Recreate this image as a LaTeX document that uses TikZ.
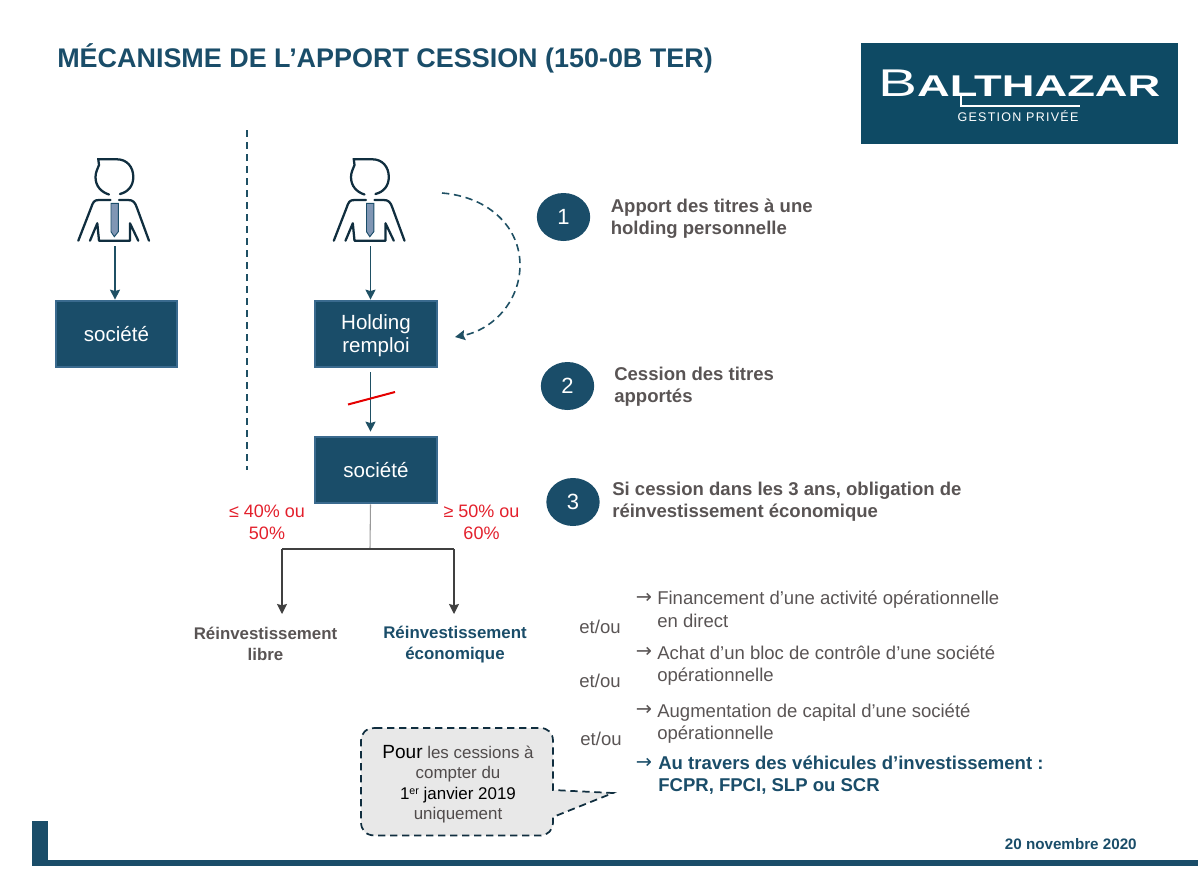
\documentclass[tikz,border=0pt]{standalone}
\usepackage{fontspec}
\setmainfont{Liberation Sans}
\newfontfamily\arrowfont{DejaVu Sans}
\usepackage{tikz}
\usetikzlibrary{arrows,arrows.meta,positioning,calc,shapes.geometric}
\definecolor{navy}{HTML}{1A4D69}
\definecolor{navyedge}{HTML}{3A6A8E}
\definecolor{logoblue}{HTML}{0E4A64}
\definecolor{teal}{HTML}{1F5064}
\definecolor{tieblue}{HTML}{8096B4}
\definecolor{textgrey}{HTML}{595454}
\definecolor{linegrey}{HTML}{404040}
\definecolor{redtxt}{HTML}{E3202C}
\tikzset{
  boxnode/.style={draw=navyedge, fill=navy, line width=1.5pt, text=white, align=center,
    inner sep=0pt, minimum width=91pt, minimum height=50pt, font=\fontsize{15.4}{17.3}\selectfont},
  numnode/.style={ellipse, fill=navy, text=white, inner sep=0pt, minimum width=40pt,
    minimum height=36pt, font=\fontsize{16.5}{18}\selectfont},
  steptxt/.style={anchor=west, align=left, inner sep=0pt, text=textgrey,
    font=\bfseries\fontsize{13.9}{16.5}\selectfont},
  listtxt/.style={anchor=west, align=left, inner sep=0pt, text=textgrey,
    font=\fontsize{13.9}{17}\selectfont},
  arrowtxt/.style={listtxt, font=\arrowfont\fontsize{14.5}{17}\selectfont},
  redtxtnode/.style={align=center, inner sep=0pt, text=redtxt, font=\fontsize{13.5}{16.5}\selectfont},
  reinvtxt/.style={align=center, inner sep=0pt, font=\bfseries\fontsize{12.65}{15.7}\selectfont},
  persnode/.style={inner sep=0pt, minimum width=54pt, minimum height=62pt},
  dashes/.style={dash pattern=on 5.5pt off 3.5pt},
  person/.pic={
    % head
    \draw[-, line width=1.7pt, color=navy!60!black, line cap=round]
      (-6,-5.5) .. controls (-14,-8) and (-19.5,-14) .. (-19.5,-23)
      .. controls (-19.5,-28) and (-17,-32) .. (-16,-35) -- (-16.7,-40.7) -- (2,-40.7)
      .. controls (12,-40.7) and (18.3,-33) .. (18.3,-23)
      .. controls (18.3,-14) and (13,-8) .. (5,-6);
    % shoulders and sleeves
    \draw[-, line width=1.7pt, color=navy!60!black, line cap=round, line join=round]
      (-36.7,40.7) -- (-24,8) .. controls (-22,2) and (-21,0) .. (-16,0) -- (-4.5,0);
    \draw[-, line width=1.7pt, color=navy!60!black, line cap=round, line join=round]
      (4,0) -- (13,0) .. controls (18,0) and (20,2) .. (22,8) -- (34,40.7);
    \draw[-, line width=1.7pt, color=navy!60!black, line cap=round, line join=round]
      (-25,40.7) -- (-17.7,23.3) -- (-16,40.7) -- (15,40.7) -- (15,23.3) -- (23.3,40.7);
    % tie
    \draw[-, line width=.7pt, draw=navy, fill=tieblue]
      (-4,3.3) -- (3.3,3.3) -- (3.3,31.7) -- (-.7,36.7) -- (-4,31.7) -- cycle;
  }
}
\begin{document}
\begin{tikzpicture}[->,>={Stealth[length=7.5pt,width=7.5pt,inset=1pt]},x=0.75pt,y=-0.75pt,line width=1.2pt]
  \useasboundingbox (0,0) rectangle (1198,872);

  % title and logo
  \node[anchor=west, inner sep=0pt, text=navy, font=\bfseries\fontsize{20.2}{24}\selectfont] (title) at (56.5,58)
    {MÉCANISME DE L’APPORT CESSION (150-0B TER)};
  \node[fill=logoblue, inner sep=0pt, minimum width=237.75pt, minimum height=75.75pt] (logo) at (1019.5,93.5) {};
  \node[anchor=base west, inner sep=0pt, text=white, xscale=1.51] (brand) at (877,96.5)
    {\fontsize{29}{30}\selectfont B\bfseries\fontsize{22.5}{30}\selectfont ALTHAZAR};
  \node[inner sep=0pt, text=white, font=\fontsize{9.4}{10}\selectfont] (gestion) at (1018,116.5)
    {\addfontfeatures{LetterSpace=10}GESTION PRIVÉE};
  \coordinate (lstem) at (961,96);
  \coordinate (lfoot) at (961,106);
  \coordinate (lend) at (1080,106);
  \draw[-, white, line width=1pt] (lstem) -- (lfoot) -- (lend);

  % separation
  \coordinate (septop) at (247,130);
  \coordinate (sepbot) at (247,470);
  \draw[-, teal, dashes, line width=1.5pt] (septop) -- (sepbot);

  % left column
  \node[persnode] (pers1) at (115,200) {};
  \pic at (pers1.center) {person};
  \node[boxnode] (soc1) at (116.5,334) {société};
  \path (pers1.south) ++(0,4) coordinate (pers1b);
  \draw[teal] (pers1b) -- (pers1b |- soc1.north);

  % right column
  \node[persnode] (pers2) at (370.5,200) {};
  \pic at (pers2.center) {person};
  \node[boxnode] (hold) at (376,334) {\rule{0pt}{14pt}Holding\\remploi};
  \node[boxnode] (soc2) at (376,470) {société};
  \path (pers2.south) ++(0,4) coordinate (pers2b);
  \draw[teal] (pers2b) -- (pers2b |- hold.north);
  \draw[teal, shorten <=3pt, shorten >=3pt] (pers2b |- hold.south) -- (pers2b |- soc2.north);
  \coordinate (cuta) at (348,404.5);
  \coordinate (cutb) at (395,392);
  \draw[-, red!90!black, line width=1.5pt] (cuta) -- (cutb);
  \coordinate (arca) at (442,193);
  \coordinate (arcb) at (520,265);
  \coordinate (arcc) at (455,337);
  \draw[teal, dashes] (arca) .. controls (490,197) and (520,228) .. (arcb)
    .. controls (520,302) and (492,330) .. (arcc);

  % branches
  \node[redtxtnode] (lowpct) at (267,522) {≤ 40\% ou\\50\%};
  \node[redtxtnode] (highpct) at (481.5,522) {≥ 50\% ou\\60\%};
  \node[reinvtxt, text=textgrey] (libre) at (265.5,644) {Réinvestissement\\libre};
  \node[reinvtxt, text=navy] (eco) at (455,645) {Réinvestissement\\économique};
  \coordinate (fork) at (370,549);
  \coordinate (forkl) at (282,549);
  \coordinate (forkr) at (454,549);
  \coordinate (tipl) at (282,614);
  \coordinate (tipr) at (454,614);
  \draw[-, black!40, line width=.8pt] (pers2b |- soc2.south) -- (fork);
  \draw[-, linegrey, line width=.8pt] (forkl) -- (forkr);
  \draw[linegrey] (forkl) -- (tipl);
  \draw[linegrey] (forkr) -- (tipr);

  % steps
  \node[numnode] (num1) at (563.5,217) {1};
  \node[steptxt] (step1) at (610,219) {Apport des titres à une\\holding personnelle};
  \node[numnode] (num2) at (567.5,386) {2};
  \node[steptxt] (step2) at (613.5,387) {Cession des titres\\apportés};
  \node[numnode] (num3) at (573,502) {3};
  \node[steptxt] (step3) at (611.5,502) {Si cession dans les 3 ans, obligation de\\réinvestissement économique};

  % list
  \node[arrowtxt] (arr1) at (635,598) {→};
  \node[listtxt] (list1) at (656.5,609) {Financement d’une activité opérationnelle\\en direct};
  \node[arrowtxt] (arr2) at (635,652) {→};
  \node[listtxt] (list2) at (656.5,665.5) {Achat d’un bloc de contrôle d’une société\\opérationnelle};
  \node[arrowtxt] (arr3) at (635,710) {→};
  \node[listtxt] (list3) at (656.5,723.5) {Augmentation de capital d’une société\\opérationnelle};
  \node[arrowtxt, text=navy] (arr4) at (635,763) {→};
  \node[steptxt, text=navy] (list4) at (657.5,775) {Au travers des véhicules d’investissement :\\FCPR, FPCI, SLP ou SCR};
  \node[listtxt, anchor=center] (etou1) at (600,627) {et/ou};
  \node[listtxt, anchor=center] (etou2) at (600,681) {et/ou};
  \node[listtxt, anchor=center] (etou3) at (601,739) {et/ou};

  % callout
  \coordinate (tail) at (613,793);
  \draw[-, dashes, navy!60!black, fill=black!9, line width=1.3pt]
    (375,728) -- (540,728) .. controls (548,728) and (553,733) .. (553,741) -- (553,790)
    -- (tail) -- (553,817) -- (553,822) .. controls (553,830) and (548,835.5) .. (540,835.5)
    -- (375,835.5) .. controls (366,835.5) and (361,830) .. (361,822) -- (361,741)
    .. controls (361,733) and (366,728) .. (375,728) -- cycle;
  \node[align=center, inner sep=0pt, text=textgrey!90!black, font=\fontsize{12.7}{15.3}\selectfont] (pour) at (458,784)
    {\textcolor{black}{\fontsize{14.3}{15.3}\selectfont Pour} les cessions à\\compter du\\\textcolor{black}{1\raisebox{.5ex}{\fontsize{8}{8}\selectfont er} janvier 2019}\\uniquement};

  % footer
  \fill[navy] (32,821) rectangle (48,866);
  \fill[navy] (32,860) rectangle (1198,866);
  \node[anchor=east, inner sep=0pt, text=navy, font=\bfseries\fontsize{11.4}{12}\selectfont] (date) at (1137.5,844) {20 novembre 2020};
\end{tikzpicture}
\end{document}
